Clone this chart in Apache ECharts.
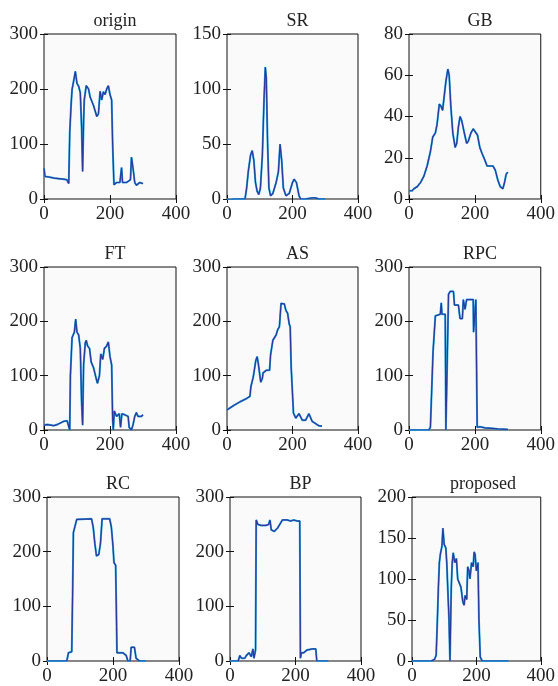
<!DOCTYPE html>
<html>
<head>
<meta charset="utf-8">
<script src="https://cdn.jsdelivr.net/npm/echarts@6/dist/echarts.min.js"></script>
<style>
  html, body { margin: 0; padding: 0; background: #fff; }
  #chart { width: 558px; height: 686px; }
</style>
</head>
<body>
<div id="chart"></div>
<script>
// panel titles and y scales
const titles = ["origin", "SR", "GB", "FT", "AS", "RPC", "RC", "BP", "proposed"];
const yMax = [300, 150, 80, 300, 300, 300, 300, 300, 200];
const yStep = [100, 50, 20, 100, 100, 100, 100, 100, 50];
const xTicks = [0, 200, 400];

// signal profiles, [x, value]
const originData = [[0,56],[3,41],[15,40],[30,38],[45,37],[60,36],[69,35],[75,28],[78,120],[82,170],[85,199],[90,215],[95,232],[100,210],[105,205],[110,193],[114,130],[117,50],[120,140],[122,180],[128,206],[135,200],[140,185],[150,170],[160,150],[165,155],[170,196],[175,180],[180,195],[185,190],[190,200],[195,206],[200,190],[205,180],[208,100],[212,26],[220,30],[230,30],[235,57],[238,30],[250,30],[262,35],[265,76],[270,55],[275,30],[280,25],[290,30],[300,28]];
const srData = [[0,0],[10,-1],[20,0],[55,0],[60,10],[65,25],[72,40],[77,44],[82,35],[87,15],[92,7],[97,4],[102,10],[108,40],[113,90],[117,120],[120,110],[124,50],[128,10],[133,3],[140,5],[150,15],[157,25],[162,50],[167,35],[172,10],[180,3],[190,5],[200,15],[205,18],[212,15],[220,3],[225,0],[240,0],[260,1],[270,1],[280,0],[300,0]];
const gbData = [[0,4],[10,4],[15,5],[25,6],[35,8],[45,11],[55,16],[65,23],[72,30],[80,32],[85,36],[92,46],[97,45],[102,43],[107,50],[112,57],[118,63],[122,60],[127,45],[133,32],[140,25],[145,27],[150,35],[155,40],[160,38],[168,32],[175,27],[180,28],[188,32],[195,34],[200,34],[208,31],[215,25],[222,22],[230,19],[237,16],[245,16],[255,16],[262,14],[270,9],[277,6],[285,5],[290,8],[295,12],[300,13]];
const ftData = [[0,9],[10,10],[20,9],[30,8],[40,10],[50,13],[60,16],[70,17],[75,16],[78,0],[80,100],[85,170],[92,180],[96,204],[100,180],[105,175],[110,150],[114,50],[117,9],[120,120],[125,160],[128,165],[132,155],[138,150],[143,125],[150,115],[158,95],[162,86],[168,100],[172,140],[178,130],[183,150],[190,155],[195,162],[200,135],[205,120],[208,20],[210,0],[213,35],[220,25],[228,30],[232,5],[236,30],[245,28],[255,25],[258,5],[265,0],[270,10],[275,25],[280,32],[285,25],[295,25],[300,28]];
const asData = [[0,37],[20,45],[40,52],[60,58],[70,62],[73,80],[78,82],[80,97],[85,100],[88,128],[92,135],[95,125],[100,125],[103,88],[108,95],[110,105],[120,110],[130,110],[133,138],[138,140],[140,165],[145,170],[150,175],[155,185],[160,190],[165,233],[175,232],[180,220],[185,215],[190,195],[193,190],[196,115],[200,112],[203,31],[210,22],[215,20],[220,30],[225,27],[230,18],[240,18],[245,16],[250,30],[255,28],[260,16],[270,12],[280,8],[290,7]];
const rpcData = [[0,0],[60,0],[65,5],[70,5],[73,144],[78,145],[80,210],[85,213],[95,213],[98,234],[100,213],[110,213],[112,0],[117,0],[120,250],[125,255],[135,255],[138,230],[150,230],[155,205],[162,205],[165,240],[170,222],[175,240],[195,240],[196,180],[200,180],[203,240],[204,240],[207,5],[215,6],[230,4],[250,3],[270,2],[300,1]];
const rcData = [[0,0],[60,0],[65,15],[75,17],[78,140],[80,235],[85,237],[90,259],[135,260],[140,245],[145,215],[150,192],[157,195],[162,215],[167,260],[190,260],[195,245],[200,210],[203,180],[208,175],[210,100],[212,15],[220,15],[230,15],[235,18],[240,10],[245,0],[252,0],[255,25],[265,25],[270,5],[280,0],[300,0]];
const bpData = [[0,0],[25,0],[30,10],[35,5],[45,5],[50,10],[58,15],[65,8],[70,22],[73,5],[78,20],[80,258],[85,250],[95,248],[110,248],[118,250],[122,258],[126,240],[135,237],[145,243],[150,245],[160,258],[175,258],[185,256],[195,258],[205,256],[213,256],[215,5],[218,15],[225,15],[235,20],[250,22],[262,22],[265,0],[300,0]];
const proposedData = [[0,0],[60,0],[70,2],[75,7],[78,40],[82,90],[85,120],[88,130],[93,140],[96,162],[100,142],[105,138],[108,120],[112,80],[115,50],[118,0],[122,90],[125,120],[128,132],[133,120],[138,125],[142,100],[148,100],[152,90],[158,72],[162,68],[165,80],[170,75],[173,115],[177,110],[180,100],[185,120],[190,115],[193,133],[196,130],[200,110],[205,120],[208,50],[212,5],[218,0],[300,0]];

const panels = [originData, srData, gbData, ftData, asData, rpcData, rcData, bpData, proposedData];

// plot boxes in px: [left, top, width, height]
const boxes = [
  [44, 34, 132, 165], [227, 34, 131, 165], [409, 34, 132, 165],
  [44, 267, 132, 163], [227, 267, 131, 163], [409, 267, 132, 163],
  [47, 497, 132, 166], [230, 497, 131, 166], [412, 497, 132, 166]
];

const font = "'Liberation Serif', 'DejaVu Serif', serif";
const txt = { color: "#222", fontFamily: font, fontSize: 19 };

const grid = [], xAxis = [], yAxis = [], series = [], title = [];
panels.forEach((data, i) => {
  const b = boxes[i];
  grid.push({ left: b[0], top: b[1], width: b[2], height: b[3],
    show: true, backgroundColor: "#fafafb", borderColor: "#111", borderWidth: 1 });
  title.push({ text: titles[i], left: b[0] + b[2] / 2, top: b[1] - 27,
    textAlign: "center", textStyle: { ...txt, fontSize: 18, fontWeight: "normal" } });
  const xBase = { type: "value", gridIndex: i, min: 0, max: 400, interval: 200,
    splitLine: { show: false }, axisLine: { show: false },
    axisTick: { inside: true, length: 4, lineStyle: { color: "#111" } } };
  xAxis.push({ ...xBase, position: "bottom",
    axisLabel: { ...txt, margin: 6, formatter: v => xTicks.includes(v) ? v : "" } });
  xAxis.push({ ...xBase, position: "top", axisLabel: { show: false } });
  const yBase = { type: "value", gridIndex: i, min: 0, max: yMax[i], interval: yStep[i],
    splitLine: { show: false }, axisLine: { show: false },
    axisTick: { inside: true, length: 4, lineStyle: { color: "#111" } } };
  yAxis.push({ ...yBase, position: "left", axisLabel: { ...txt, margin: 6 } });
  yAxis.push({ ...yBase, position: "right", axisLabel: { show: false } });
  series.push({ type: "line", xAxisIndex: 2 * i, yAxisIndex: 2 * i, data,
    symbol: "none", silent: true, lineStyle: { color: "#2aa6e0", width: 2 } });
  series.push({ type: "line", xAxisIndex: 2 * i, yAxisIndex: 2 * i, data,
    symbol: "none", silent: true, lineStyle: { color: "#2b3a9a", width: 1.2 } });
});

const chart = echarts.init(document.getElementById("chart"), null, { renderer: "canvas" });
chart.setOption({
  backgroundColor: "#ffffff",
  animation: false,
  title, grid, xAxis, yAxis, series
});
</script>
</body>
</html>
